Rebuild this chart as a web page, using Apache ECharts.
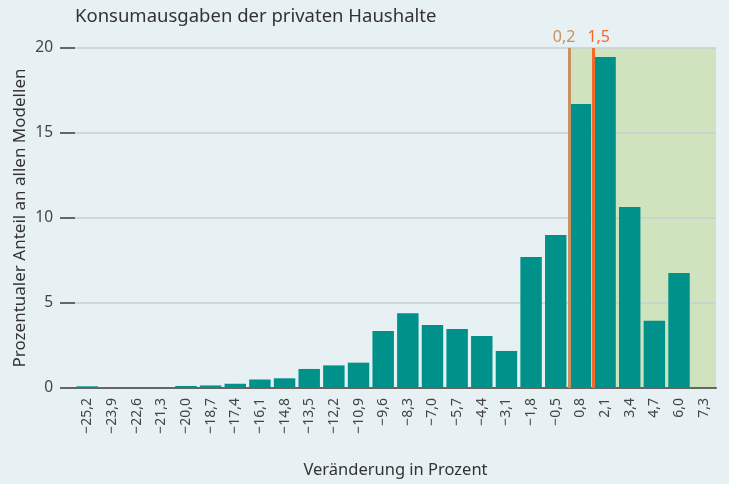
<!DOCTYPE html>
<html>
<head>
<meta charset="utf-8">
<script src="https://cdn.jsdelivr.net/npm/echarts@6/dist/echarts.min.js"></script>
<style>
  html, body { margin: 0; padding: 0; background: #e7f0f2; }
  #chart { width: 729px; height: 484px; }
</style>
</head>
<body>
<div id="chart"></div>
<script>
// Klassen (Mitte der Intervalle, Breite 1,3)
const categories = ['−25,2', '−23,9', '−22,6', '−21,3', '−20,0', '−18,7', '−17,4', '−16,1', '−14,8', '−13,5',
  '−12,2', '−10,9', '−9,6', '−8,3', '−7,0', '−5,7', '−4,4', '−3,1', '−1,8', '−0,5',
  '0,8', '2,1', '3,4', '4,7', '6,0', '7,3']
const shares = [0.1, 0.02, 0.02, 0.05, 0.12, 0.15, 0.25, 0.5, 0.57, 1.12,
  1.33, 1.49, 3.35, 4.4, 3.7, 3.47, 3.06, 2.18, 7.7, 9.0,
  16.7, 19.47, 10.65, 3.96, 6.76, null]
const binFirst = -25.2
const binLast = 7.3
const binWidth = 1.3
const markers = [
  { value: 0.2, label: '0,2', color: '#c99161', shift: -5 },
  { value: 1.5, label: '1,5', color: '#f26b2b', shift: 5 },
]
const shadeFrom = 0.2

const chart = echarts.init(document.getElementById('chart'), null, { renderer: 'canvas' })
const font = "'Noto Sans', 'Open Sans', sans-serif"

chart.setOption({
  backgroundColor: '#e7f0f2',
  animation: false,
  title: {
    text: 'Konsumausgaben der privaten Haushalte',
    left: 70, top: 2,
    textStyle: { fontSize: 18.5, fontWeight: 'normal', color: '#333', fontFamily: font },
  },
  grid: { left: 75, right: 13, top: 48, bottom: 96 },
  xAxis: [
    {
      type: 'category', data: categories,
      axisLine: { lineStyle: { color: '#666', width: 2 } },
      axisTick: { show: false },
      axisLabel: { rotate: 90, margin: 10, fontSize: 14, color: '#444', fontFamily: font },
      name: 'Veränderung in Prozent', nameLocation: 'middle', nameGap: 74,
      nameTextStyle: { fontSize: 16.5, color: '#333', fontFamily: font },
      z: 3,
    },
    {
      type: 'value', show: false, position: 'top',
      min: binFirst - binWidth / 2, max: binLast + binWidth / 2,
    },
  ],
  yAxis: {
    type: 'value', min: 0, max: 20, interval: 5,
    axisLine: { show: false, onZero: false },
    axisTick: { show: true, length: 15, lineStyle: { color: '#666', width: 2 } },
    axisLabel: { margin: 22, fontSize: 15.5, color: '#444', fontFamily: font },
    splitLine: { lineStyle: { color: '#c9cfd1', width: 1.5 } },
    name: 'Prozentualer Anteil an allen Modellen', nameLocation: 'middle', nameGap: 46,
    nameMoveOverlap: false,
    nameTextStyle: { fontSize: 17, color: '#333', fontFamily: font },
    z: 1,
  },
  series: [
    {
      type: 'line', xAxisIndex: 1, yAxisIndex: 0, data: [],
      markArea: {
        silent: true, z: 0,
        itemStyle: { color: '#d0e3bf' },
        data: [[{ xAxis: shadeFrom }, { xAxis: binLast + binWidth / 2 }]],
      },
      markLine: {
        silent: true, symbol: 'none', z: 5,
        data: markers.map(m => ({
          xAxis: m.value,
          lineStyle: { color: m.color, width: 3, type: 'solid' },
          label: {
            show: true, position: 'end', formatter: m.label, distance: 3,
            offset: [m.shift, 0],
            color: m.color, fontSize: 16, fontFamily: font,
          },
        })),
      },
    },
    {
      type: 'bar', xAxisIndex: 0, yAxisIndex: 0, data: shares,
      barCategoryGap: '13%',
      itemStyle: { color: '#00918a' },
      z: 2,
    },
  ],
})
</script>
</body>
</html>
